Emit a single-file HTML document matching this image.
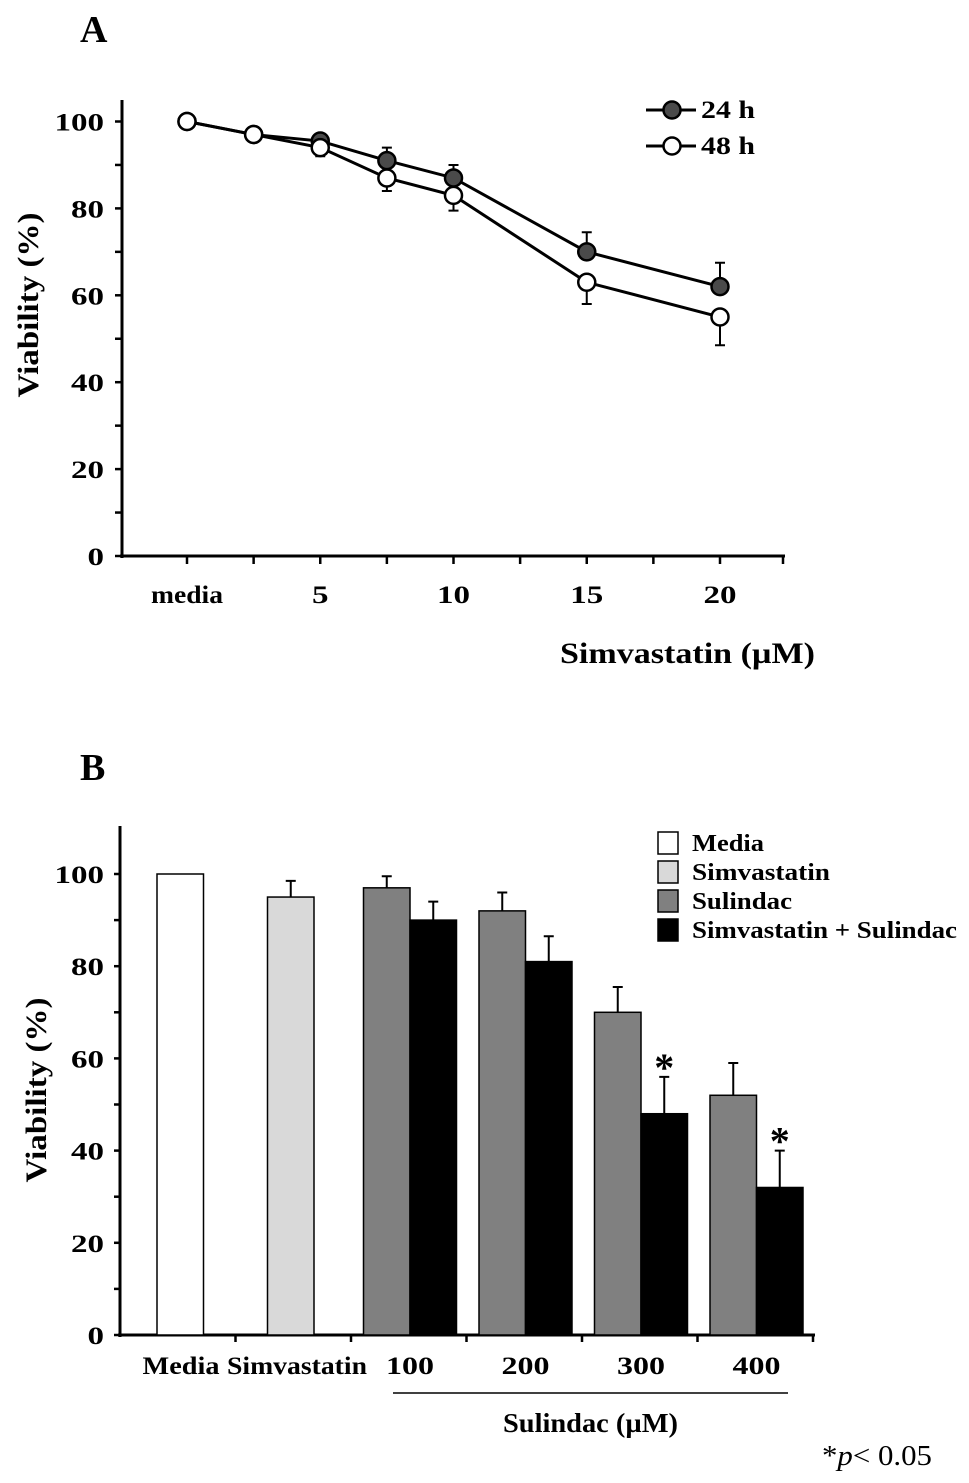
<!DOCTYPE html>
<html><head><meta charset="utf-8"><style>
html,body{margin:0;padding:0;background:#fff;}
svg{display:block;font-family:"Liberation Serif",serif;font-weight:bold;}
</style></head><body>
<svg id="chart" width="969" height="1483" viewBox="0 0 969 1483" xmlns="http://www.w3.org/2000/svg">
<text x="80" y="42" font-size="38">A</text>
<text x="80" y="780" font-size="38">B</text>
<g id="ga"></g>
<g id="gb"></g>
<text x="822" y="1465" font-size="28" font-weight="normal" textLength="110" lengthAdjust="spacingAndGlyphs">*<tspan font-style="italic">p</tspan>&lt; 0.05</text>
</svg>
<script>
// Panel A data
const concA = [0, 2.5, 5, 7.5, 10, 15, 20];
const v24 = [100, 97, 95.5, 91, 87, 70, 62];
const e24 = [0, 0, 1, 3, 3, 4.5, 5.5];
const v48 = [100, 97, 94, 87, 83, 63, 55];
const e48 = [0, 0, 2, 3, 3.5, 5, 6.5];
const xTicksA = ["media", "5", "10", "15", "20"];
const xTickValsA = [0, 5, 10, 15, 20];
const yTicks = [0, 20, 40, 60, 80, 100];
// Panel B data
const groupsB = ["Media", "Simvastatin", "100", "200", "300", "400"];
const sulVals = [97, 92, 70, 52];
const sulErr = [2.5, 4, 5.5, 7];
const combVals = [90, 81, 48, 32];
const combErr = [4, 5.5, 8, 8];
const mediaVal = 100;
const simVal = 95;
const simErr = 3.5;
const sigFlags = [false, false, true, true];

const NS = "http://www.w3.org/2000/svg";
function mk(parent, tag, attrs, text) {
  const el = document.createElementNS(NS, tag);
  for (const k in attrs) el.setAttribute(k, attrs[k]);
  if (text !== undefined) el.textContent = text;
  parent.appendChild(el);
  return el;
}
function tl(el, len) { el.setAttribute('textLength', len); el.setAttribute('lengthAdjust', 'spacingAndGlyphs'); }
// ---------- Panel A ----------
const ga = document.getElementById('ga');
const xA = c => 187 + c * 26.65;
const yA = v => 556 - v * 4.345;
let e;
e = mk(ga, 'line', {x1:122, y1:100, x2:122, y2:558, stroke:'#000', 'stroke-width':3});
 
e = mk(ga, 'line', {x1:120, y1:556, x2:785, y2:556, stroke:'#000', 'stroke-width':3});
 
for (let v = 0; v <= 100; v += 10) {
  e = mk(ga, 'line', {x1:115, y1:yA(v), x2:122, y2:yA(v), stroke:'#000', 'stroke-width':2.5});
   
}
yTicks.forEach(v => {
  e = mk(ga, 'text', {x:104, y:yA(v) + 9, 'font-size':25, 'text-anchor':'end'}, String(v));
  tl(e, String(v).length * 16.5);
   
});
for (let c = -2.5; c <= 22.5; c += 2.5) {
  const x = xA(c); if (x < 125 || x > 785) continue;
  e = mk(ga, 'line', {x1:x, y1:556, x2:x, y2:564, stroke:'#000', 'stroke-width':2.5});
   
}
e = mk(ga, 'line', {x1:783, y1:556, x2:783, y2:564, stroke:'#000', 'stroke-width':2.5});
 
xTicksA.forEach((t, i) => {
  e = mk(ga, 'text', {x:xA(xTickValsA[i]), y:603, 'font-size':25, 'text-anchor':'middle'}, t);
  tl(e, t === 'media' ? 72 : t.length * 16.5);
   
});
e = mk(ga, 'text', {x:560, y:663, 'font-size':30}, 'Simvastatin (µM)');
tl(e, 255);
 
e = mk(ga, 'text', {x:0, y:0, 'font-size':30, 'text-anchor':'middle', transform:'translate(38,305) rotate(-90)'}, 'Viability (%)');
tl(e, 185);
 
function series(vals, errs, fill, name, below) {
  const pts = concA.map((c, i) => xA(c) + ',' + yA(vals[i])).join(' ');
  let el = mk(ga, 'polyline', {points:pts, fill:'none', stroke:'#000', 'stroke-width':3});
   
  concA.forEach((c, i) => {
    if (errs[i] > 0) {
      const y2 = below ? yA(vals[i] - errs[i]) : yA(vals[i] + errs[i]);
      el = mk(ga, 'path', {d:`M${xA(c)},${yA(vals[i])}V${y2}M${xA(c)-5},${y2}H${xA(c)+5}`, stroke:'#000', 'stroke-width':2});
       
    }
  });
  concA.forEach((c, i) => {
    el = mk(ga, 'circle', {cx:xA(c), cy:yA(vals[i]), r:8.5, fill:fill, stroke:'#000', 'stroke-width':2.5});
     
  });
}
series(v24, e24, '#4a4a4a', 'series-24h', false);
series(v48, e48, '#fff', 'series-48h', true);
[['#4a4a4a', '24 h', 110], ['#fff', '48 h', 146]].forEach(l => {
  e = mk(ga, 'line', {x1:646, y1:l[2], x2:696, y2:l[2], stroke:'#000', 'stroke-width':3});
   
  e = mk(ga, 'circle', {cx:672, cy:l[2], r:8.5, fill:l[0], stroke:'#000', 'stroke-width':2.5});
   
  e = mk(ga, 'text', {x:701, y:l[2] + 8, 'font-size':25}, l[1]);
  tl(e, 54);
   
});
// ---------- Panel B ----------
const gb = document.getElementById('gb');
const yB = v => 1335 - v * 4.61;
const bw = 46.5;
const groupX = i => 120 + 115.5 * i;
e = mk(gb, 'line', {x1:120, y1:826, x2:120, y2:1337, stroke:'#000', 'stroke-width':3});
 
e = mk(gb, 'line', {x1:118, y1:1335, x2:815, y2:1335, stroke:'#000', 'stroke-width':3});
 
for (let v = 0; v <= 100; v += 10) {
  e = mk(gb, 'line', {x1:114, y1:yB(v), x2:120, y2:yB(v), stroke:'#000', 'stroke-width':2.5});
   
}
yTicks.forEach(v => {
  e = mk(gb, 'text', {x:104, y:yB(v) + 9, 'font-size':25, 'text-anchor':'end'}, String(v));
  tl(e, String(v).length * 16.5);
   
});
for (let i = 1; i <= 6; i++) {
  e = mk(gb, 'line', {x1:groupX(i), y1:1335, x2:groupX(i), y2:1342, stroke:'#000', 'stroke-width':2.5});
   
}
function bar(x, v, err, fill, name) {
  let el = mk(gb, 'rect', {x:x, y:yB(v), width:bw, height:yB(0) - yB(v), fill:fill, stroke:'#000', 'stroke-width':1.5});
   
  if (err > 0) {
    const cx = x + bw / 2, y2 = yB(v + err);
    el = mk(gb, 'path', {d:`M${cx},${yB(v)}V${y2}M${cx-5},${y2}H${cx+5}`, stroke:'#000', 'stroke-width':2});
     
  }
}
bar(groupX(0) + 37, mediaVal, 0, '#fff', 'bar-media');
bar(groupX(1) + 32, simVal, simErr, '#d9d9d9', 'bar-simvastatin');
sulVals.forEach((v, i) => {
  const gx = groupX(i + 2) - 1.5 + 14;
  bar(gx, v, sulErr[i], '#808080', 'bar-sulindac-' + groupsB[i + 2]);
  bar(gx + bw, combVals[i], combErr[i], '#000', 'bar-combo-' + groupsB[i + 2]);
  if (sigFlags[i]) {
    e = mk(gb, 'text', {x:gx + bw * 1.5, y:yB(combVals[i] + combErr[i]) + 4, 'font-size':40, 'text-anchor':'middle'}, '*');
     
  }
});
groupsB.forEach((g, i) => {
  const cx = i === 0 ? 181 : (i === 1 ? 297 : groupX(i) + 59);
  e = mk(gb, 'text', {x:cx, y:1374, 'font-size':25, 'text-anchor':'middle'}, g);
  tl(e, i === 0 ? 77 : (i === 1 ? 140 : 48));
   
});
e = mk(gb, 'line', {x1:393, y1:1393, x2:788, y2:1393, stroke:'#000', 'stroke-width':1.5});
 
e = mk(gb, 'text', {x:503, y:1432, 'font-size':27}, 'Sulindac (µM)');
tl(e, 175);
 
e = mk(gb, 'text', {x:0, y:0, 'font-size':30, 'text-anchor':'middle', transform:'translate(46,1090) rotate(-90)'}, 'Viability (%)');
tl(e, 185);
 
const legLens = [72, 138, 100, 265];
[['#fff', 'Media'], ['#d9d9d9', 'Simvastatin'], ['#808080', 'Sulindac'], ['#000', 'Simvastatin + Sulindac']].forEach((l, i) => {
  const y = 832 + i * 29;
  e = mk(gb, 'rect', {x:658, y:y, width:20, height:22, fill:l[0], stroke:'#000', 'stroke-width':1.5});
   
  e = mk(gb, 'text', {x:692, y:y + 19, 'font-size':24}, l[1]);
  tl(e, legLens[i]);
   
});
</script>
</body></html>
